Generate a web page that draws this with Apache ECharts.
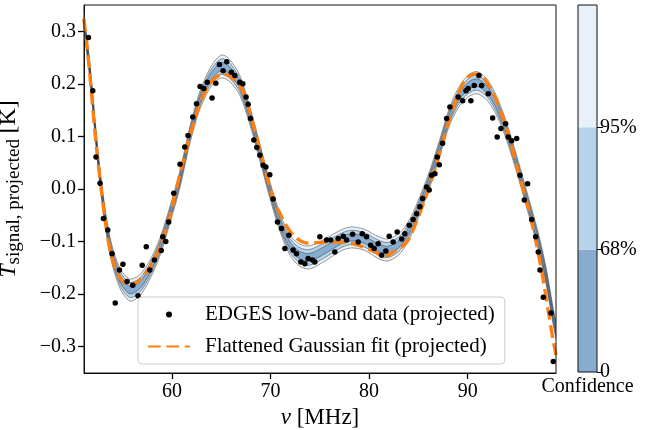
<!DOCTYPE html>
<html><head><meta charset="utf-8">
<script src="https://cdn.jsdelivr.net/npm/echarts@6/dist/echarts.min.js"></script>
<style>html,body{margin:0;padding:0;background:#fff}#c{width:646px;height:430px}</style>
</head><body><div id="c"></div>
<script>
// ---- data ----
const xTicks = [60, 70, 80, 90];
const yTicks = [-0.3, -0.2, -0.1, 0, 0.1, 0.2, 0.3];
const cbTicks = [0, 1, 2];
const cbTickLabels = ['0', '68%', '95%'];
const cbSpans = [1, 1, 1];
const cbName = ['Confidence'];

const dataFreq = [51.51,51.95,52.28,52.69,53.03,53.47,53.91,54.23,54.66,55.01,55.43,56.01,56.54,56.97,57.38,57.74,58.21,58.90,59.06,59.36,59.66,60.17,60.81,61.29,61.62,62.10,62.48,62.84,63.22,63.57,64.06,64.44,64.81,65.18,65.55,66.03,66.37,66.88,67.18,67.51,67.72,67.96,68.30,68.60,68.91,69.24,69.52,69.92,70.26,70.70,71.11,71.45,71.85,72.29,72.63,73.07,73.48,73.81,74.26,74.49,75.00,75.68,76.10,76.52,76.86,77.37,77.71,78.32,78.89,79.30,79.74,80.15,80.51,80.92,81.27,81.70,82.04,82.44,82.85,83.30,83.63,84.07,84.47,84.82,85.15,85.43,85.84,86.10,86.34,86.68,86.91,87.12,87.46,87.87,88.20,89.04,89.49,89.83,90.06,90.33,90.67,91.15,91.42,92.09,92.54,93.00,93.38,93.86,94.12,94.47,94.98,95.31,95.75,96.09,96.50,96.91,97.17,97.34,97.68,98.46,98.69];
const dataTemp = [0.288,0.187,0.061,0.011,-0.056,-0.078,-0.123,-0.217,-0.154,-0.143,-0.176,-0.183,-0.203,-0.145,-0.110,-0.154,-0.135,-0.117,-0.091,-0.100,-0.063,-0.008,0.047,0.080,0.102,0.137,0.162,0.195,0.191,0.203,0.173,0.201,0.237,0.225,0.242,0.222,0.216,0.203,0.200,0.175,0.161,0.134,0.093,0.079,0.064,0.045,0.042,0.027,-0.019,-0.063,-0.075,-0.113,-0.088,-0.116,-0.123,-0.139,-0.142,-0.132,-0.135,-0.139,-0.091,-0.097,-0.097,-0.120,-0.094,-0.090,-0.097,-0.086,-0.101,-0.085,-0.091,-0.107,-0.113,-0.104,-0.126,-0.118,-0.090,-0.101,-0.082,-0.095,-0.085,-0.069,-0.058,-0.047,-0.034,-0.018,0.004,-0.002,0.026,0.029,0.061,0.046,0.087,0.134,0.156,0.175,0.168,0.187,0.191,0.168,0.197,0.216,0.197,0.181,0.135,0.099,0.115,0.124,0.099,0.092,0.096,0.026,-0.021,0.010,-0.058,-0.091,-0.120,-0.154,-0.206,-0.236,-0.328];

const fitFreq = [51.03,51.24,51.64,52.15,52.66,53.17,53.77,54.69,55.70,56.72,57.74,58.75,59.77,60.38,61.09,61.80,62.81,63.83,65.15,66.16,67.18,68.20,69.21,70.23,70.94,71.45,72.47,73.79,75.51,77.24,78.86,80.59,81.60,82.42,83.84,84.85,85.87,86.88,87.90,88.91,89.93,91.05,92.06,93.08,94.10,95.11,96.13,96.84,97.55,98.16,98.67,98.97];
const fitTemp = [0.324,0.295,0.220,0.111,0.022,-0.054,-0.122,-0.168,-0.183,-0.173,-0.149,-0.111,-0.054,-0.003,0.050,0.100,0.162,0.200,0.219,0.210,0.187,0.125,0.054,-0.016,-0.046,-0.065,-0.091,-0.103,-0.101,-0.101,-0.107,-0.120,-0.128,-0.120,-0.101,-0.060,-0.009,0.049,0.117,0.174,0.212,0.219,0.200,0.162,0.106,0.035,-0.035,-0.092,-0.160,-0.230,-0.287,-0.316];

const bandFreq = [51.04,51.65,52.66,53.68,54.69,55.70,56.72,57.74,58.75,59.77,60.78,61.80,62.81,63.83,64.64,65.16,65.87,66.88,67.89,68.91,69.93,70.94,71.96,72.97,73.99,75.51,77.24,78.25,79.57,80.89,81.91,83.13,84.14,85.15,86.17,87.18,88.20,89.21,90.22,91.04,92.06,93.07,94.09,95.11,96.12,97.14,97.95,98.66,98.97];
const bandMid = [0.320,0.225,0.026,-0.107,-0.169,-0.192,-0.183,-0.154,-0.111,-0.050,0.017,0.102,0.168,0.210,0.229,0.233,0.225,0.197,0.140,0.070,-0.002,-0.063,-0.107,-0.126,-0.130,-0.116,-0.097,-0.092,-0.097,-0.111,-0.116,-0.103,-0.075,-0.031,0.020,0.079,0.140,0.178,0.198,0.202,0.187,0.153,0.102,0.039,-0.028,-0.097,-0.164,-0.240,-0.269];
const bandOuter = [0.016,0.016,0.016,0.017,0.019,0.021,0.020,0.018,0.017,0.016,0.016,0.016,0.017,0.019,0.021,0.022,0.021,0.019,0.017,0.016,0.016,0.017,0.019,0.021,0.022,0.021,0.020,0.020,0.020,0.021,0.021,0.020,0.018,0.017,0.016,0.016,0.017,0.019,0.021,0.021,0.020,0.018,0.017,0.016,0.016,0.016,0.016,0.016,0.016];
const bandFrac95 = 0.68;
const bandFrac68 = 0.34;

// ---- build ----
const FONT = 'Liberation Serif';
const fmtY = v => (v < 0 ? '\u2212' : '') + Math.abs(v).toFixed(1);
const pairs = (xs, ys) => xs.map((x, i) => [x, ys[i]]);

const bandLevels = [
  { frac: 1, color: '#e8f1f9' },
  { frac: bandFrac95, color: '#b5d4ea' },
  { frac: bandFrac68, color: '#88acd0' }
];

function renderBand(params, api) {
  const children = [];
  const lines = [];
  bandLevels.forEach(L => {
    const up = bandFreq.map((f, i) => api.coord([f, bandMid[i] + bandOuter[i] * L.frac]));
    const lo = bandFreq.map((f, i) => api.coord([f, bandMid[i] - bandOuter[i] * L.frac]));
    children.push({
      type: 'polygon', shape: { points: up.concat(lo.slice().reverse()), smooth: 0.3 },
      style: { fill: L.color, stroke: null }
    });
    lines.push(up, lo);
  });
  lines.forEach(pts => children.push({
    type: 'polyline', shape: { points: pts, smooth: 0.3 },
    style: { fill: null, stroke: '#222', lineWidth: 0.45 }
  }));
  return { type: 'group', children };
}

const cbColors = ['#88acd0', '#b5d4ea', '#e8f1f9'];
const cbSeries = cbSpans.map((s, k) => ({
  type: 'bar', xAxisIndex: 1, yAxisIndex: 1, stack: 'cb', barWidth: '100%',
  data: [s], itemStyle: { color: cbColors[k] }, silent: true, z: 1
}));

const axisLineStyle = { show: true, onZero: false, lineStyle: { color: '#111', width: 1 } };

const chart = echarts.init(document.getElementById('c'), null, { renderer: 'canvas' });
chart.setOption({
  animation: false,
  backgroundColor: '#fff',
  grid: [
    { left: 84, right: 90, top: 5, bottom: 57, show: true, borderColor: '#111', borderWidth: 1, z: 6, containLabel: false, outerBoundsMode: 'none' },
    { left: 578, width: 19, top: 5, bottom: 58, show: true, borderColor: '#111', borderWidth: 1, z: 6, containLabel: false, outerBoundsMode: 'none' }
  ],
  xAxis: [
    {
      type: 'value', gridIndex: 0, min: 51.06, max: 98.97, position: 'bottom',
      axisLine: axisLineStyle, splitLine: { show: false },
      axisTick: { show: true, inside: false, length: 6, customValues: xTicks, lineStyle: { color: '#000', width: 1.3 } },
      axisLabel: { customValues: xTicks, fontFamily: FONT, fontSize: 20, color: '#000', margin: 9 },
      name: '{it|\u03bd} [MHz]', nameLocation: 'middle', nameGap: 26,
      nameTextStyle: { fontFamily: FONT, fontSize: 23, color: '#000',
        rich: { it: { fontFamily: FONT, fontStyle: 'italic', fontSize: 23, color: '#000' } } }
    },
    {
      type: 'category', gridIndex: 1, data: cbName, boundaryGap: true,
      axisLine: { show: false, onZero: false }, axisTick: { show: false }, splitLine: { show: false },
      axisLabel: { fontFamily: FONT, fontSize: 20, color: '#000', margin: 5 }
    }
  ],
  yAxis: [
    {
      type: 'value', gridIndex: 0, min: -0.35, max: 0.35, position: 'left',
      axisLine: axisLineStyle, splitLine: { show: false },
      axisTick: { show: true, inside: false, length: 6, customValues: yTicks, lineStyle: { color: '#000', width: 1.3 } },
      axisLabel: { customValues: yTicks, formatter: fmtY, fontFamily: FONT, fontSize: 20, color: '#000', margin: 8 },
      name: '{it|T}{sub|signal, projected} {rm|[K]}', nameLocation: 'middle', nameGap: 60,
      nameTextStyle: { fontFamily: FONT, fontSize: 22, color: '#000',
        rich: {
          it: { fontFamily: FONT, fontStyle: 'italic', fontSize: 24, color: '#000', lineHeight: 30 },
          sub: { fontFamily: FONT, fontSize: 19, color: '#000', verticalAlign: 'bottom', lineHeight: 30, padding: [8, 0, 0, 0] },
          rm: { fontFamily: FONT, fontSize: 24, color: '#000', lineHeight: 30 }
        } }
    },
    {
      type: 'value', gridIndex: 1, position: 'right', min: 0, max: 3,
      axisLine: { show: false, onZero: false }, splitLine: { show: false },
      axisTick: { show: true, inside: false, length: 6, customValues: cbTicks, lineStyle: { color: '#000', width: 1 } },
      axisLabel: { customValues: cbTicks, formatter: v => cbTickLabels[cbTicks.indexOf(v)], fontFamily: FONT, fontSize: 20, color: '#000', margin: 3 }
    }
  ],
  legend: {
    left: 138, top: 297, orient: 'vertical', itemWidth: 42, itemHeight: 6, itemGap: 11,
    padding: [7, 10, 7, 9], backgroundColor: 'rgba(255,255,255,0.8)', borderColor: '#cccccc',
    borderWidth: 1, borderRadius: 4, z: 10,
    textStyle: { fontFamily: FONT, fontSize: 21, color: '#000', padding: [0, 0, 0, 10] },
    data: [
      { name: 'EDGES low-band data (projected)', icon: 'circle' },
      { name: 'Flattened Gaussian fit (projected)', itemStyle: { opacity: 0 } }
    ]
  },
  series: [
    {
      type: 'custom', name: 'band', data: [[bandFreq[0], bandMid[0]]], renderItem: renderBand,
      clip: true, z: 2, silent: true
    },
    {
      type: 'line', name: 'Flattened Gaussian fit (projected)', data: pairs(fitFreq, fitTemp),
      symbol: 'none', smooth: 0.3, z: 3, color: '#ff7f0e',
      lineStyle: { color: '#ff7f0e', width: 3.3, type: [12.8, 5.6] }
    },
    {
      type: 'scatter', name: 'EDGES low-band data (projected)', data: pairs(dataFreq, dataTemp),
      symbol: 'circle', symbolSize: 5.5, z: 4, itemStyle: { color: '#000', opacity: 1 }
    },
    ...cbSeries
  ]
});
</script></body></html>
